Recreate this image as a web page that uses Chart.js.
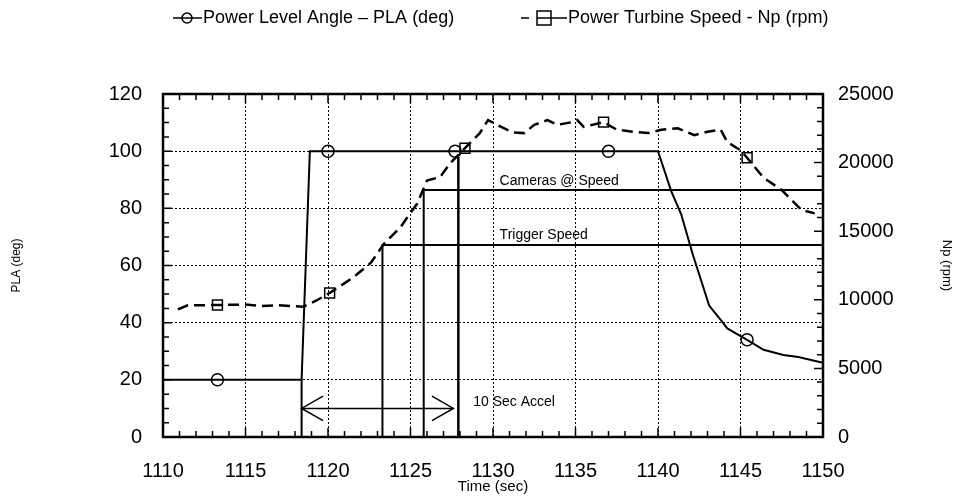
<!DOCTYPE html>
<html lang="en">
<head>
<meta charset="UTF-8">
<title>PLA and Np vs Time</title>
<style>
  body { margin: 0; background: #fff; }
  #wrap { position: relative; width: 964px; height: 496px; }
</style>
</head>
<body>
<div id="wrap"><canvas id="chart"></canvas></div>
<script src="https://cdn.jsdelivr.net/npm/chart.js"></script>
<script>
// axis ticks
const timeTicks = [1110, 1115, 1120, 1125, 1130, 1135, 1140, 1145, 1150];
const plaTicks = [0, 20, 40, 60, 80, 100, 120];
const npTicks = [0, 5000, 10000, 15000, 20000, 25000];

// Power Level Angle (deg)
const plaTime = [1110, 1113.3, 1118.4, 1118.9, 1120, 1126, 1127.7, 1137, 1140, 1140.8, 1141.4, 1142.1, 1142.6, 1143.1, 1143.8, 1144.2, 1145.4, 1146.4, 1147.6, 1148.5, 1150];
const plaDeg  = [20, 20, 20, 100, 100, 100, 100, 100, 100, 86, 78, 64, 55, 46, 41, 38, 34, 30.5, 28.7, 28, 26];
const plaMarks = [1113.3, 1120, 1127.7, 1137, 1145.4];

// Power Turbine Speed (rpm)
const npTime = [1110.9, 1111.5, 1113.3, 1115, 1116, 1117, 1118.5, 1119.3, 1120.1, 1121.5, 1122.6, 1123.4, 1124.4, 1124.8, 1125.4, 1126, 1126.8, 1127.4, 1128.3, 1129.2, 1129.7, 1130.5, 1131.2, 1131.9, 1132.5, 1133.3, 1133.9, 1134.8, 1135.1, 1135.5, 1136.7, 1137.5, 1138.5, 1139.4, 1140.2, 1141.2, 1142.2, 1143, 1143.8, 1144.2, 1145, 1145.4, 1146.4, 1147.5, 1148.7, 1149.5];
const npRpm  = [9300, 9600, 9620, 9650, 9550, 9600, 9500, 9950, 10500, 11600, 12700, 14100, 15300, 16000, 17000, 18700, 18950, 19950, 21050, 22150, 23100, 22600, 22200, 22150, 22750, 23100, 22750, 22950, 23100, 22600, 22950, 22400, 22250, 22150, 22400, 22500, 22000, 22250, 22400, 21500, 20900, 20350, 18900, 18000, 16550, 16300];
const npMarks = [1113.3, 1120.1, 1128.3, 1136.7, 1145.4];

// event lines: [time, rpm level]
const triggerTime = 1123.3, triggerRpm = 14000;
const camerasTime = 1125.8, camerasRpm = 18000;
const startTime = 1118.4, startPla = 20;
const endTime = 1127.9, endPla = 98;
const arrowFrom = 1118.4, arrowTo = 1127.6, arrowPla = 10;
const arrowHeadDx = 1.3, arrowHeadDy = 4.3;

// text notes: label, time, PLA level
const noteText = ['Cameras @ Speed', 'Trigger Speed', '10 Sec Accel'];
const noteTime = [1130.4, 1130.4, 1128.8];
const notePla  = [89.5, 70.5, 12.2];

const FONT = "'Liberation Sans', Arial, Helvetica, sans-serif";
Chart.defaults.font.family = FONT;
Chart.defaults.color = '#000';

const pts = (xs, ys) => xs.map((x, i) => ({ x: x, y: ys[i] }));
const seg = (color, width, pairs, axis) => ({
  data: pairs, yAxisID: axis, borderColor: color, borderWidth: width,
  pointRadius: 0, fill: false, tension: 0
});

const extras = {
  id: 'extras',
  afterDatasetsDraw(chart) {
    const ctx = chart.ctx;
    const a = chart.chartArea;
    const x = chart.scales.x, y = chart.scales.y, y1 = chart.scales.y1;
    ctx.save();
    ctx.strokeStyle = '#000';
    ctx.lineWidth = 1.5;
    ctx.beginPath();
    // inner tick marks
    for (let t = 1110; t <= 1150; t++) {
      const px = x.getPixelForValue(t);
      const len = t % 5 === 0 ? 9 : 6;
      ctx.moveTo(px, a.bottom); ctx.lineTo(px, a.bottom - len);
      ctx.moveTo(px, a.top); ctx.lineTo(px, a.top + len);
    }
    for (let v = 0; v <= 120; v += 5) {
      const py = y.getPixelForValue(v);
      const len = v % 20 === 0 ? 9 : 6;
      ctx.moveTo(a.left, py); ctx.lineTo(a.left + len, py);
    }
    for (let v = 0; v <= 25000; v += 1000) {
      const py = y1.getPixelForValue(v);
      const len = v % 5000 === 0 ? 9 : 6;
      ctx.moveTo(a.right, py); ctx.lineTo(a.right - len, py);
    }
    ctx.stroke();
    // frame
    ctx.lineWidth = 2.5;
    ctx.strokeRect(a.left, a.top, a.right - a.left, a.bottom - a.top);

    // notes
    ctx.fillStyle = '#000';
    ctx.font = '14px ' + FONT;
    ctx.textBaseline = 'middle';
    ctx.textAlign = 'left';
    noteText.forEach((s, i) => {
      ctx.fillText(s, x.getPixelForValue(noteTime[i]), y.getPixelForValue(notePla[i]));
    });

    // legend
    const ly = 18;
    ctx.lineWidth = 1.5;
    ctx.beginPath();
    ctx.moveTo(173, ly); ctx.lineTo(202, ly);
    ctx.stroke();
    ctx.beginPath();
    ctx.arc(187, ly, 5, 0, Math.PI * 2);
    ctx.stroke();
    ctx.font = '18px ' + FONT;
    ctx.fillText('Power Level Angle \u2013 PLA (deg)', 203, ly);

    ctx.beginPath();
    ctx.moveTo(521, ly); ctx.lineTo(529, ly);
    ctx.moveTo(537, ly); ctx.lineTo(567, ly);
    ctx.stroke();
    ctx.strokeRect(537, ly - 7, 14, 14);
    ctx.fillText('Power Turbine Speed - Np (rpm)', 568, ly);
    ctx.restore();
  }
};

new Chart(document.getElementById('chart'), {
  type: 'line',
  data: {
    datasets: [
      {
        label: 'Power Level Angle - PLA (deg)',
        data: pts(plaTime, plaDeg), yAxisID: 'y',
        borderColor: '#000', borderWidth: 2, fill: false, tension: 0,
        pointStyle: 'circle',
        pointRadius: plaTime.map(t => plaMarks.includes(t) ? 6 : 0),
        pointBorderColor: '#000', pointBorderWidth: 1.5,
        pointBackgroundColor: 'rgba(0,0,0,0)'
      },
      {
        label: 'Power Turbine Speed - Np (rpm)',
        data: pts(npTime, npRpm), yAxisID: 'y1',
        borderColor: '#000', borderWidth: 2.5, borderDash: [11, 6], fill: false, tension: 0,
        pointStyle: 'rect',
        pointRadius: npTime.map(t => npMarks.includes(t) ? 7 : 0),
        pointBorderColor: '#000', pointBorderWidth: 1.5,
        pointBackgroundColor: 'rgba(0,0,0,0)'
      },
      seg('#000', 2, [{ x: triggerTime, y: 0 }, { x: triggerTime, y: triggerRpm }, { x: 1150, y: triggerRpm }], 'y1'),
      seg('#000', 2, [{ x: camerasTime, y: 0 }, { x: camerasTime, y: camerasRpm }, { x: 1150, y: camerasRpm }], 'y1'),
      seg('#000', 2, [{ x: startTime, y: 0 }, { x: startTime, y: startPla }], 'y'),
      seg('#000', 2.5, [{ x: endTime, y: 0 }, { x: endTime, y: endPla }], 'y'),
      seg('#000', 1.5, [{ x: arrowFrom, y: arrowPla }, { x: arrowTo, y: arrowPla }], 'y'),
      seg('#000', 1.5, [{ x: arrowFrom + arrowHeadDx, y: arrowPla + arrowHeadDy }, { x: arrowFrom, y: arrowPla }, { x: arrowFrom + arrowHeadDx, y: arrowPla - arrowHeadDy }], 'y'),
      seg('#000', 1.5, [{ x: arrowTo - arrowHeadDx, y: arrowPla + arrowHeadDy }, { x: arrowTo, y: arrowPla }, { x: arrowTo - arrowHeadDx, y: arrowPla - arrowHeadDy }], 'y')
    ]
  },
  options: {
    responsive: true,
    maintainAspectRatio: false,
    animation: false,
    layout: { padding: { top: 94, left: 0, right: 0, bottom: 0 } },
    plugins: { legend: { display: false }, tooltip: { enabled: false } },
    scales: {
      x: {
        type: 'linear', min: 1110, max: 1150,
        afterBuildTicks: s => { s.ticks = timeTicks.map(v => ({ value: v })); },
        afterFit: s => { s.height = 59; },
        grid: { color: '#000', lineWidth: 1, drawTicks: false },
        border: { display: false, dash: [2, 2] },
        ticks: { padding: 22, autoSkip: false, maxRotation: 0, font: { size: 20 }, callback: v => String(v) },
        title: { display: true, text: 'Time (sec)', font: { size: 15 }, padding: { top: 0, bottom: 0 } }
      },
      y: {
        position: 'left', min: 0, max: 120,
        afterBuildTicks: s => { s.ticks = plaTicks.map(v => ({ value: v })); },
        afterFit: s => { s.width = 163; },
        grid: { color: '#000', lineWidth: 1, drawTicks: false },
        border: { display: false, dash: [2, 2] },
        ticks: { padding: 21, font: { size: 20 }, callback: v => String(v) },
        title: { display: true, text: 'PLA (deg)', font: { size: 12 }, padding: { top: 9, bottom: 0 } }
      },
      y1: {
        position: 'right', min: 0, max: 25000,
        afterBuildTicks: s => { s.ticks = npTicks.map(v => ({ value: v })); },
        afterFit: s => { s.width = 141; },
        grid: { display: false, drawTicks: false },
        border: { display: false },
        ticks: { padding: 15, font: { size: 20 }, callback: v => String(v) },
        title: { display: true, text: 'Np (rpm)', font: { size: 13 }, padding: { top: 10, bottom: 0 } }
      }
    }
  },
  plugins: [extras]
});
</script>
</body>
</html>
